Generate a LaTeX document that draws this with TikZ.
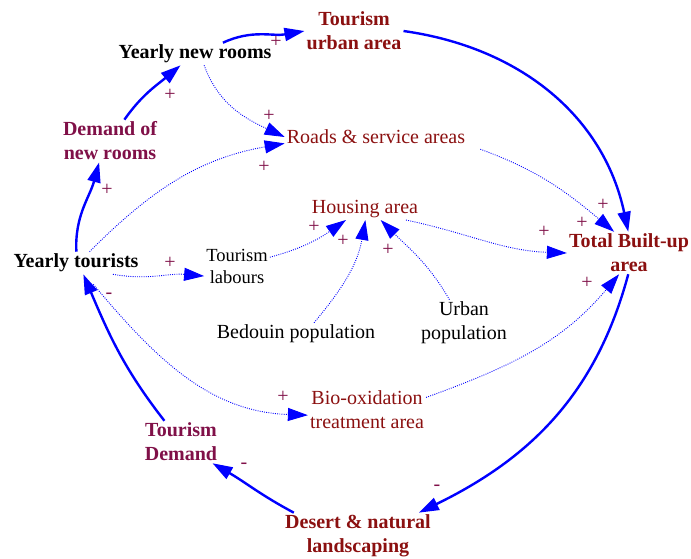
\documentclass[tikz,border=0pt]{standalone}
\usepackage{fontspec}
\setmainfont{Liberation Serif}
\usetikzlibrary{arrows.meta}

\definecolor{cldred}{RGB}{139,16,16}
\definecolor{cldpurple}{RGB}{128,16,72}

\tikzset{
  var/.style={inner sep=2pt, align=center, font=\fontsize{20}{24}\selectfont},
  bvar/.style={var, font=\bfseries\fontsize{20}{24}\selectfont},
  smallvar/.style={var, font=\fontsize{18.5}{22}\selectfont},
  sgn/.style={inner sep=0pt, text=cldpurple, font=\fontsize{20}{24}\selectfont},
  mainlink/.style={draw=blue, line width=2.4pt, -{Triangle[length=20pt,width=13pt]}},
  sidelink/.style={draw=blue, line width=0.9pt, dash pattern=on 0.9pt off 1.3pt, -{Triangle[length=20pt,width=13pt]}}
}

\begin{document}
\begin{tikzpicture}[x=1pt, y=-1pt]
            \useasboundingbox (0,0) rectangle (691,558);

            % variables
            \node[bvar, text=cldred] (tua) at (354,31) {Tourism\\urban area};
            \node[bvar] (ynr) at (195,54) {Yearly new rooms};
            \node[bvar, text=cldpurple] (dnr) at (110,141) {Demand of\\new rooms};
            \node[var, text=cldred] (rsa) at (376,137) {Roads \& service areas};
            \node[var, text=cldred] (ha) at (365,209) {Housing area};
            \node[bvar] (yt) at (76,263) {Yearly tourists};
            \node[smallvar] (tl) at (237,266) {Tourism\\labours};
            \node[bvar, text=cldred] (tba) at (629,253) {Total Built-up\\area};
            \node[var] (bp) at (296,334) {Bedouin population};
            \node[var] (up) at (464,323) {Urban\\population};
            \node[var, text=cldred] (bio) at (367,410) {Bio-oxidation\\treatment area};
            \node[bvar, text=cldpurple] (td) at (181,442) {Tourism\\Demand};
            \node[bvar, text=cldred] (dnl) at (358,536) {Desert \& natural\\landscaping};

            % main loop
            \draw[mainlink] (ynr.22) to[out=25,in=190] (tua.west);
            \draw[mainlink] (tua.east) to[out=-8,in=102] (tba.92);
            \draw[mainlink] (tba.-92) to[out=-105,in=26] (dnl.21);
            \draw[mainlink] (dnl.160) to[out=152,in=-30] (td.-34);
            \draw[mainlink] (td.128) to[out=128,in=-67] (yt.-57);
            \draw[mainlink] (yt.88) to[out=93,in=-105] (dnr.-117);
            \draw[mainlink] (dnr.56) to[out=55,in=-140] (ynr.-142);

            % side links
            \draw[sidelink] (ynr.-51) to[out=-70,in=155] (rsa.west);
            \draw[sidelink] (yt.40) to[out=45,in=190] (rsa.184);
            \draw[sidelink] (yt.-17) to[out=-10,in=175] (tl.197);
            \draw[sidelink] (tl.15) to[out=15,in=-145] (ha.-150);
            \draw[sidelink] (bp.32) to[out=50,in=-100] (ha.-88);
            \draw[sidelink] (up.122) to[out=120,in=-45] (ha.-35);
            \draw[sidelink] (ha.-15) to[out=-12,in=178] (tba.west);
            \draw[sidelink] ([shift={(13,3)}]rsa.south east) to[out=-20,in=140] (tba.125);
            \draw[sidelink] ([xshift=6pt,yshift=-10pt]yt.-45) to[out=-50,in=178] (bio.185);
            \draw[sidelink] (bio.12) to[out=20,in=-130] (tba.-115);

            % polarities
            \node[sgn] (p1) at (276,42) {+};
            \node[sgn] (p2) at (170,95) {+};
            \node[sgn] (p3) at (269,116) {+};
            \node[sgn] (p4) at (264,167) {+};
            \node[sgn] (p5) at (107,190) {+};
            \node[sgn] (p6) at (170,263) {+};
            \node[sgn] (m1) at (109,296) {-};
            \node[sgn] (p7) at (314,227) {+};
            \node[sgn] (p8) at (343,241) {+};
            \node[sgn] (p9) at (388,250) {+};
            \node[sgn] (p10) at (603,205) {+};
            \node[sgn] (p11) at (582,223) {+};
            \node[sgn] (p12) at (544,232) {+};
            \node[sgn] (p13) at (587,283) {+};
            \node[sgn] (p14) at (283,397) {+};
            \node[sgn] (m2) at (244,466) {-};
            \node[sgn] (m3) at (437,488) {-};
\end{tikzpicture}
\end{document}
